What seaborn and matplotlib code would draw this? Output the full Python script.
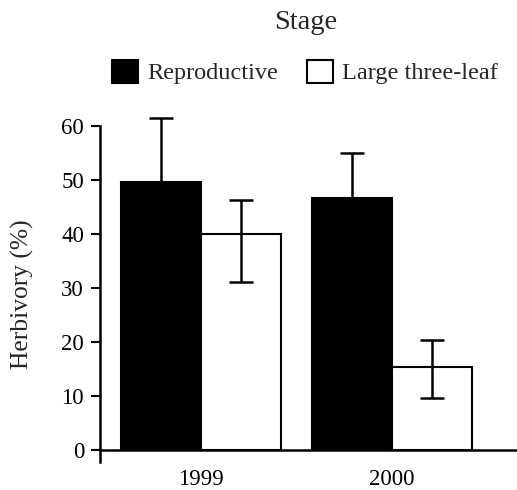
import matplotlib
matplotlib.use("Agg")
import matplotlib.pyplot as plt
import seaborn as sns
import pandas as pd
import numpy as np
from matplotlib.patches import Patch

years = ["1999", "2000"]
stages = ["Reproductive", "Large three-leaf"]
repro_mean = [49.7, 46.6]
repro_upper = [61.4, 55.0]
ltl_mean = [40.0, 15.4]
ltl_upper = [46.3, 20.5]
ltl_lower = [31.2, 9.7]
y_ticks = [0, 10, 20, 30, 40, 50, 60]

sns.set_theme(style="ticks")
plt.rcParams["font.family"] = ["Liberation Serif", "DejaVu Serif"]

df = pd.DataFrame({
    "Year": years * 2,
    "Stage": [stages[0]] * 2 + [stages[1]] * 2,
    "Herbivory": repro_mean + ltl_mean,
})

fig = plt.figure(figsize=(5.17, 4.90), dpi=100)
ax = fig.add_axes([100 / 517, 1 - 461.8 / 490, 1 - 100 / 517, (461.8 - 126) / 490])

sns.barplot(data=df, x="Year", y="Herbivory", hue="Stage", order=years,
            hue_order=stages, palette=["black", "white"], edgecolor="black",
            linewidth=1.5, width=0.84, gap=0, errorbar=None, legend=False, ax=ax)

rep_bars = ax.containers[0]
ltl_bars = ax.containers[1]
rx = [b.get_x() + b.get_width() / 2 for b in rep_bars]
lx = [b.get_x() + b.get_width() / 2 for b in ltl_bars]
eb1 = ax.errorbar(rx, repro_mean,
                  yerr=[np.zeros(2), np.array(repro_upper) - np.array(repro_mean)],
                  fmt="none", ecolor="black", elinewidth=1.8, capsize=8.3, capthick=1.8, zorder=1)
eb2 = ax.errorbar(lx, ltl_mean,
                  yerr=[np.array(ltl_mean) - np.array(ltl_lower), np.array(ltl_upper) - np.array(ltl_mean)],
                  fmt="none", ecolor="black", elinewidth=1.8, capsize=8.3, capthick=1.8, zorder=3)
for eb in (eb1, eb2):
    for art in eb.lines[1]:
        art.set_clip_on(False)
    for art in eb.lines[2]:
        art.set_clip_on(False)

ax.set_ylim(-2.1, 60)
ax.set_xlim(-0.529, 1.654)
ax.set_yticks(y_ticks)
ax.set_ylabel("Herbivory (%)", fontsize=18.4)
ax.yaxis.label.set_va("center")
ax.yaxis.set_label_coords(-0.186, 0.5)
ax.set_xlabel("")
ax.tick_params(axis="y", labelsize=16.5, length=6.5, width=1.5, direction="out", pad=5, colors="black")
ax.tick_params(axis="x", labelsize=16.5, length=0, pad=5.5, colors="black")
for s in ["top", "right", "bottom"]:
    ax.spines[s].set_visible(False)
ax.spines["left"].set_linewidth(1.8)
ax.spines["left"].set_color("black")
ax.axhline(0, color="black", linewidth=1.8, zorder=4, clip_on=False)

fig.text(306 / 517, 1 - 29 / 490, "Stage", ha="center", va="baseline", fontsize=20.5)
handles = [Patch(facecolor="black", edgecolor="black", linewidth=1.5),
           Patch(facecolor="white", edgecolor="black", linewidth=1.5)]
fig.legend(handles, stages, loc="center", bbox_to_anchor=(305 / 517, 1 - 72 / 490),
           ncol=2, frameon=False, fontsize=17.5, handlelength=1.07, handleheight=1.07,
           handletextpad=0.38, columnspacing=1.2, borderaxespad=0)

fig.savefig("out.png", dpi=100)
